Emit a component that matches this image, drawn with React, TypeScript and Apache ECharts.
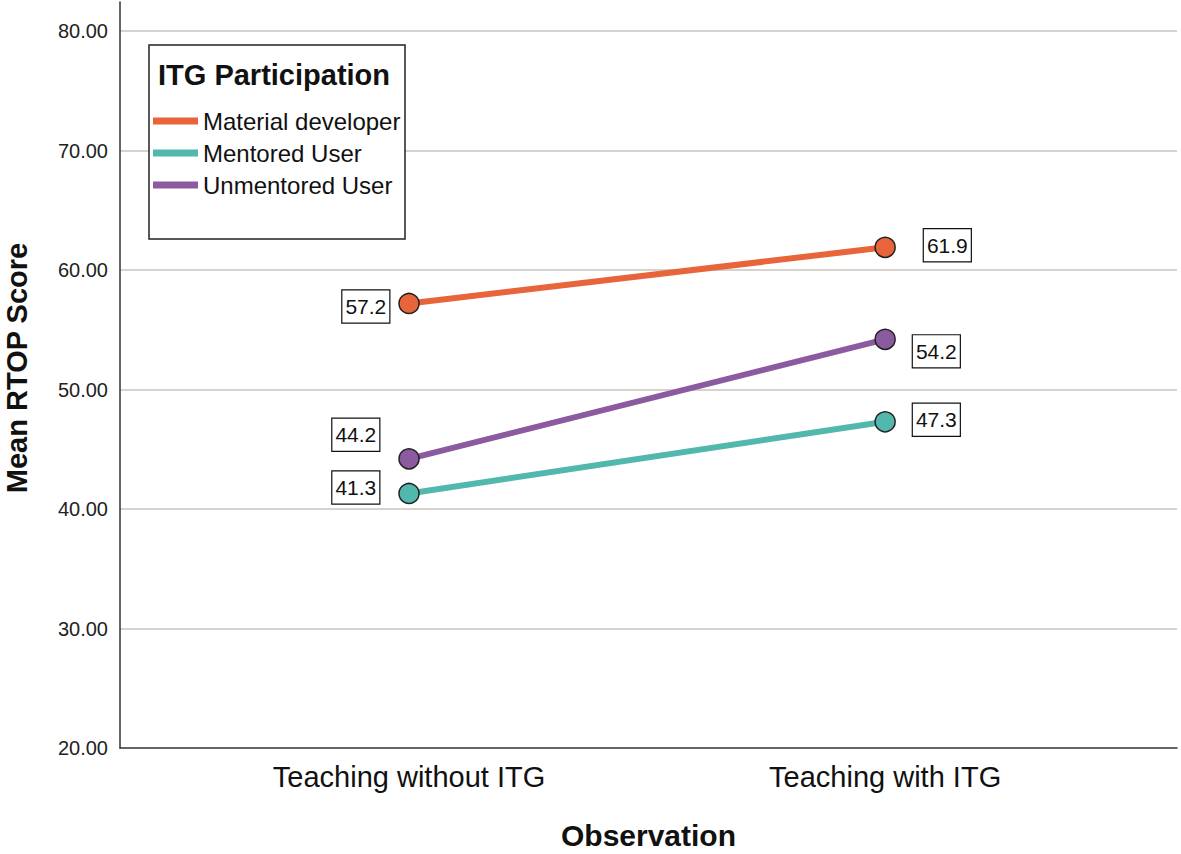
import React, { useEffect, useRef } from "react";
import * as echarts from "echarts";

const categories = ["Teaching without ITG", "Teaching with ITG"];
const seriesNames = ["Material developer", "Mentored User", "Unmentored User"];
const materialDeveloper = [57.2, 61.9];
const mentoredUser = [41.3, 47.3];
const unmentoredUser = [44.2, 54.2];
const yTicks = [20, 30, 40, 50, 60, 70, 80];

const colors = ["#E8643A", "#52B7AD", "#8C5A9F"];
// label placement per series per point: [position, distance, offsetY]
const labelPlacement: [string, number, number][][] = [
  [["left", 9, 3], ["right", 28, -2]],
  [["left", 19, -6], ["right", 17, -2]],
  [["left", 19, -24], ["right", 17, 12]],
];

const FONT = "'Liberation Sans', Arial, Helvetica, sans-serif";

export default function App() {
  const ref = useRef<HTMLDivElement>(null);
  useEffect(() => {
    document.body.style.margin = "0";
    const chart = echarts.init(ref.current!, null, { renderer: "svg" });
    const allValues = [materialDeveloper, mentoredUser, unmentoredUser];
    const series = allValues.map((vals, si) => ({
      name: seriesNames[si],
      type: "line",
      data: vals.map((v, i) => ({
        value: [i, v],
        label: {
          position: labelPlacement[si][i][0],
          distance: labelPlacement[si][i][1],
          offset: [0, labelPlacement[si][i][2]],
        },
      })),
      symbol: "circle",
      symbolSize: 20,
      lineStyle: { color: colors[si], width: 6 },
      itemStyle: { color: colors[si], borderColor: "#222", borderWidth: 1.5 },
      label: {
        show: true,
        formatter: (p: any) => p.value[1].toFixed(1),
        fontFamily: FONT,
        fontSize: 21,
        color: "#111",
        backgroundColor: "#fff",
        borderColor: "#111",
        borderWidth: 1.2,
        padding: [6, 3, 5, 3],
      },
      z: 3 - si,
    }));

    chart.setOption({
      animation: false,
      backgroundColor: "#fff",
      grid: { left: 120, right: 4, top: 2, bottom: 106, containLabel: false, outerBoundsMode: "none" },
      xAxis: {
        type: "value",
        min: -0.607,
        max: 1.613,
        axisLine: { show: true, onZero: false, lineStyle: { color: "#333", width: 1.5 } },
        axisTick: { show: false },
        splitLine: { show: false },
        axisLabel: {
          customValues: [0, 1],
          formatter: (v: number) => categories[Math.round(v)] ?? "",
          fontFamily: FONT,
          fontSize: 29,
          color: "#111",
          margin: 14,
        },
        name: "Observation",
        nameLocation: "middle",
        nameGap: 72,
        nameTextStyle: { fontFamily: FONT, fontSize: 30, fontWeight: "bold", color: "#111" },
      },
      yAxis: {
        type: "value",
        min: 20,
        max: 82.43,
        axisLine: { show: true, onZero: false, lineStyle: { color: "#333", width: 1.5 } },
        axisTick: { show: false },
        splitLine: { show: true, showMinLine: false, showMaxLine: false, lineStyle: { color: "#c9c3be", width: 1.5 } },
        axisLabel: {
          customValues: yTicks,
          formatter: (v: number) => v.toFixed(2),
          fontFamily: FONT,
          fontSize: 20,
          color: "#222",
          margin: 12,
        },
        name: "Mean RTOP Score",
        nameLocation: "middle",
        nameGap: 89,
        nameTextStyle: { fontFamily: FONT, fontSize: 29, fontWeight: "bold", color: "#111", padding: [0, 0, 0, 14] },
      },
      legend: {
        orient: "vertical",
        left: 148,
        top: 103,
        icon: "rect",
        itemWidth: 45,
        itemHeight: 7,
        itemGap: 6,
        data: seriesNames,
        z: 100,
        itemStyle: { borderWidth: 0 },
        textStyle: { fontFamily: FONT, fontSize: 24, color: "#111", lineHeight: 26 },
        selectedMode: false,
      },
      graphic: [
        {
          type: "rect",
          shape: { x: 149, y: 45, width: 256, height: 194 },
          style: { fill: "#fff", stroke: "#222", lineWidth: 1.5 },
          z: 1,
        },
        {
          type: "text",
          x: 158,
          y: 60,
          style: { text: "ITG Participation", fontFamily: FONT, fontSize: 29, fontWeight: "bold", fill: "#111" },
          z: 100,
        },
      ],
      series,
    });
    return () => chart.dispose();
  }, []);
  return <div ref={ref} style={{ width: 1181, height: 854 }} />;
}
